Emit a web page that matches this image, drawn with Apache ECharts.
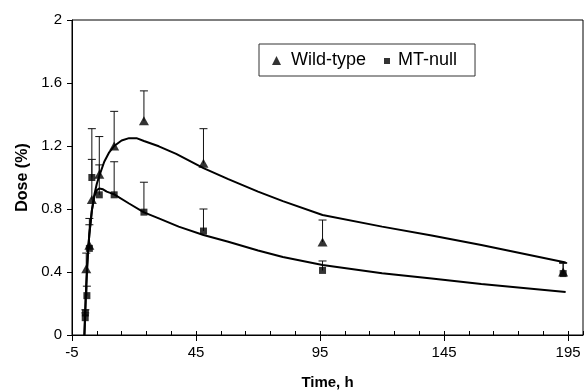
<!DOCTYPE html>
<html>
<head>
<meta charset="utf-8">
<script src="https://cdn.jsdelivr.net/npm/echarts@6/dist/echarts.min.js"></script>
<style>
html,body{margin:0;padding:0;background:#fff;}
#chart{width:586px;height:392px;}
</style>
</head>
<body>
<div id="chart"></div>
<script>
// ---- data ----
const wtTime = [0.75, 2, 3, 6, 12, 24, 48, 96, 193];
const wtDose = [0.42, 0.57, 0.86, 1.02, 1.20, 1.36, 1.09, 0.59, 0.40];
const wtSD   = [0.10, 0.17, 0.255, 0.24, 0.22, 0.19, 0.22, 0.14, 0.06];

const mtTime = [0.33, 0.4, 1, 2, 3, 6, 12, 24, 48, 96, 193];
const mtDose = [0.11, 0.14, 0.25, 0.55, 1.00, 0.89, 0.89, 0.78, 0.66, 0.41, 0.39];
const mtSD   = [0.03, 0.02, 0.06, 0.15, 0.31, 0.19, 0.21, 0.19, 0.14, 0.06, 0.065];

const wtFitTime = [0, 0.5, 1, 1.5, 2, 3, 4, 5, 6, 8, 10, 12, 15, 18, 21, 24, 30, 37, 48, 58, 70, 80, 96, 120, 140, 160, 194];
const wtFitDose = [0, 0.22, 0.40, 0.54, 0.64, 0.79, 0.89, 0.96, 1.01, 1.10, 1.16, 1.20, 1.235, 1.25, 1.25, 1.232, 1.198, 1.15, 1.06, 0.99, 0.91, 0.85, 0.762, 0.688, 0.632, 0.572, 0.46];

const mtFitTime = [0, 0.5, 1, 1.5, 2, 3, 4, 5, 6, 7.5, 9, 12, 18, 24, 30, 38, 48, 58, 70, 80, 96, 120, 140, 160, 194];
const mtFitDose = [0, 0.22, 0.40, 0.54, 0.64, 0.79, 0.88, 0.92, 0.93, 0.925, 0.91, 0.893, 0.835, 0.779, 0.74, 0.688, 0.635, 0.592, 0.537, 0.495, 0.444, 0.392, 0.358, 0.324, 0.273];

const xLabels = [-5, 45, 95, 145, 195];
const yLabels = [0, 0.4, 0.8, 1.2, 1.6, 2];

// ---- build ----
const FONT = 'Liberation Sans, Arial, sans-serif';
const zip = (a, b) => a.map((v, i) => [v, b[i]]);
const errData = (t, d, s) => t.map((v, i) => [v, d[i], d[i] + s[i]]);

function errRender(params, api) {
  const x = api.value(0), y = api.value(1), top = api.value(2);
  const p1 = api.coord([x, y]);
  const p2 = api.coord([x, top]);
  const st = {stroke: '#111', lineWidth: 1};
  return {
    type: 'group',
    children: [
      {type: 'line', shape: {x1: p1[0], y1: p1[1], x2: p2[0], y2: p2[1]}, style: st},
      {type: 'line', shape: {x1: p2[0] - 4, y1: p2[1], x2: p2[0] + 4, y2: p2[1]}, style: st}
    ]
  };
}

const chart = echarts.init(document.getElementById('chart'), null, {renderer: 'canvas'});
chart.setOption({
  animation: false,
  backgroundColor: '#fff',
  textStyle: {fontFamily: FONT, color: '#000'},
  grid: {left: 72, right: 3, top: 20, bottom: 57, containLabel: false, outerBoundsMode: 'none',
         show: true, borderColor: '#000', borderWidth: 1},
  legend: {
    left: 259, top: 44,
    data: [
      {name: 'Wild-type', icon: 'path://M0,0M16,10M2,10L6.5,1L11,10Z'},
      {name: 'MT-null', icon: 'path://M0,0M16,10M7,3H13V9H7Z'}
    ],
    itemWidth: 16, itemHeight: 10, itemGap: 11,
    padding: [7, 18, 7, 11],
    borderColor: '#333', borderWidth: 1,
    textStyle: {fontSize: 18, color: '#000', fontFamily: FONT},
    selectedMode: false
  },
  xAxis: [{
    type: 'value', min: -5, max: 201, interval: 50,
    name: 'Time, h', nameLocation: 'middle', nameGap: 40,
    nameTextStyle: {fontSize: 15, fontWeight: 'bold', color: '#000', fontFamily: FONT},
    axisLine: {show: true, onZero: false, lineStyle: {color: '#000', width: 1}},
    axisTick: {show: true, inside: false, length: 6, customValues: xLabels, lineStyle: {color: '#000', width: 1}},
    axisLabel: {show: true, customValues: xLabels, fontSize: 15, color: '#000', margin: 10, fontFamily: FONT},
    splitLine: {show: false}
  }, {
    type: 'value', min: -5, max: 201, interval: 10, position: 'bottom', gridIndex: 0, offset: 0,
    axisLine: {show: false, onZero: false},
    axisTick: {show: true, inside: true, length: 4, lineStyle: {color: '#000', width: 1}},
    axisLabel: {show: false},
    splitLine: {show: false}
  }],
  yAxis: {
    type: 'value', min: 0, max: 2, interval: 0.4,
    name: 'Dose (%)', nameLocation: 'middle', nameGap: 34,
    nameTextStyle: {fontSize: 16, fontWeight: 'bold', color: '#000', fontFamily: FONT},
    axisLine: {show: true, onZero: false, lineStyle: {color: '#000', width: 1}},
    axisTick: {show: true, inside: false, length: 5, lineStyle: {color: '#000', width: 1}},
    axisLabel: {show: true, customValues: yLabels, fontSize: 15, color: '#000', margin: 10, fontFamily: FONT},
    splitLine: {show: false}
  },
  series: [
    {type: 'line', name: 'WT fit', data: zip(wtFitTime, wtFitDose), showSymbol: false, symbol: 'none',
     lineStyle: {color: '#000', width: 2}, z: 3},
    {type: 'line', name: 'MT fit', data: zip(mtFitTime, mtFitDose), showSymbol: false, symbol: 'none',
     lineStyle: {color: '#000', width: 2}, z: 3},
    {type: 'custom', name: 'WT err', renderItem: errRender, data: errData(wtTime, wtDose, wtSD), z: 2},
    {type: 'custom', name: 'MT err', renderItem: errRender, data: errData(mtTime, mtDose, mtSD), z: 2},
    {type: 'scatter', name: 'Wild-type', data: zip(wtTime, wtDose), symbol: 'triangle', symbolSize: [10, 9],
     itemStyle: {color: '#000'}, z: 4},
    {type: 'scatter', name: 'MT-null', data: zip(mtTime, mtDose), symbol: 'rect', symbolSize: 7,
     itemStyle: {color: '#000'}, z: 4}
  ]
});
</script>
</body>
</html>
